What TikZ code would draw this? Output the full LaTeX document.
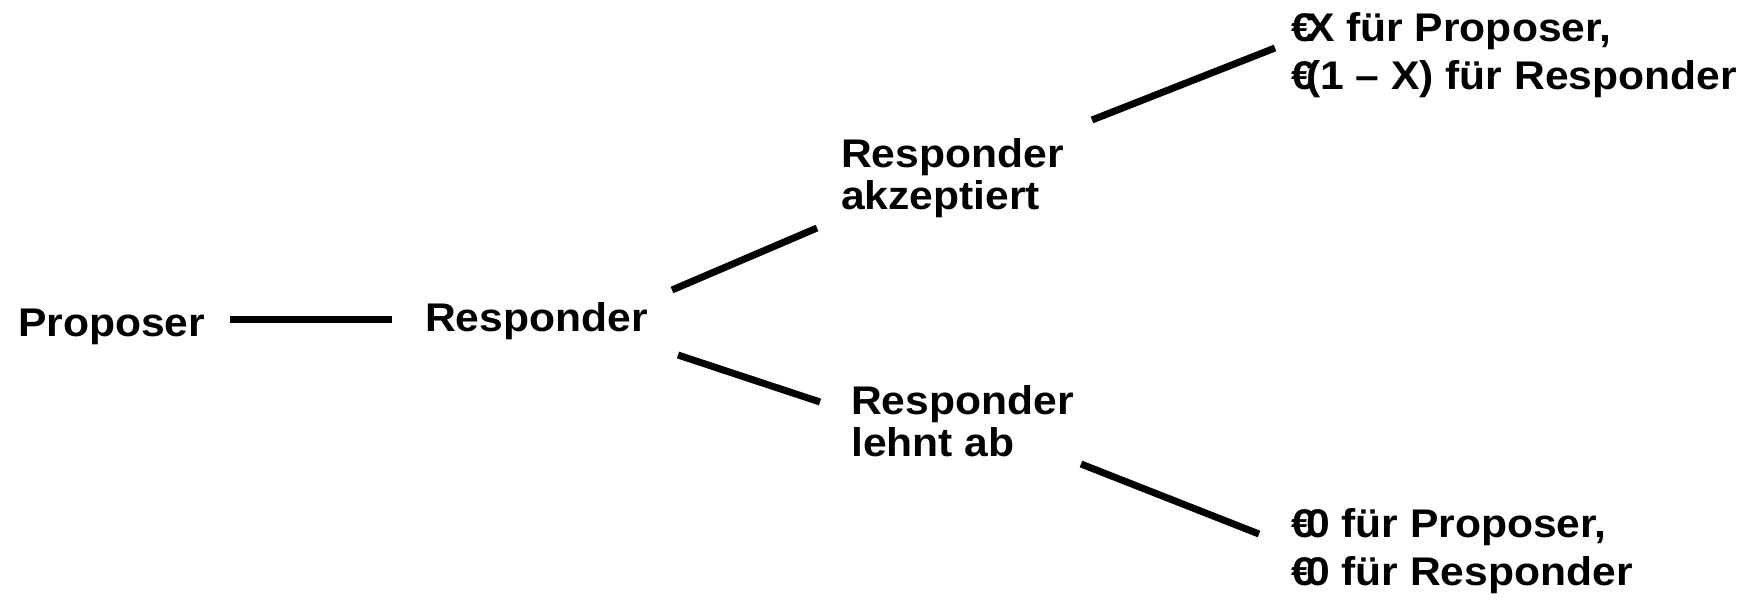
\documentclass[tikz,border=0pt]{standalone}
\usepackage{fontspec}
\setmainfont{Liberation Sans}[FakeStretch=1.065]
\newcommand{\eur}{€\kern-0.22em}
\newcommand{\lbl}[1]{\begin{tabular}[t]{@{}l@{}}#1\end{tabular}}
\tikzset{
  txt/.style={anchor=base west, inner sep=0pt, font=\fontsize{40}{42}\selectfont\bfseries},
  otxt/.style={txt, font=\fontsize{40}{48}\selectfont\bfseries},
  branch/.style={line width=7pt, line cap=butt}
}
\begin{document}
\begin{tikzpicture}[x=1pt,y=-1pt]
\useasboundingbox (0,0) rectangle (1762,600);
\node[txt] (prop) at (18,336) {Proposer};
\node[txt] (resp) at (425,331) {Responder};
\node[txt] (acc) at (841,167) {\lbl{Responder\\akzeptiert}};
\node[txt] (rej) at (851,414) {\lbl{Responder\\lehnt ab}};
\node[otxt] (outA) at (1291,41) {\lbl{\eur X für Proposer,\\\eur(1 – X) für Responder}};
\node[otxt] (outB) at (1291,537) {\lbl{\eur 0 für Proposer,\\\eur 0 für Responder}};
\coordinate (p1) at (230,319);  \coordinate (p2) at (392,319);
\coordinate (a1) at (672,290);  \coordinate (a2) at (817,228);
\coordinate (r1) at (678,355);  \coordinate (r2) at (820,402);
\coordinate (aa1) at (1092,120); \coordinate (aa2) at (1275,48);
\coordinate (rr1) at (1081,464); \coordinate (rr2) at (1259,534);
\draw[branch] (p1) -- (p2);
\draw[branch] (a1) -- (a2);
\draw[branch] (r1) -- (r2);
\draw[branch] (aa1) -- (aa2);
\draw[branch] (rr1) -- (rr2);
\end{tikzpicture}
\end{document}
